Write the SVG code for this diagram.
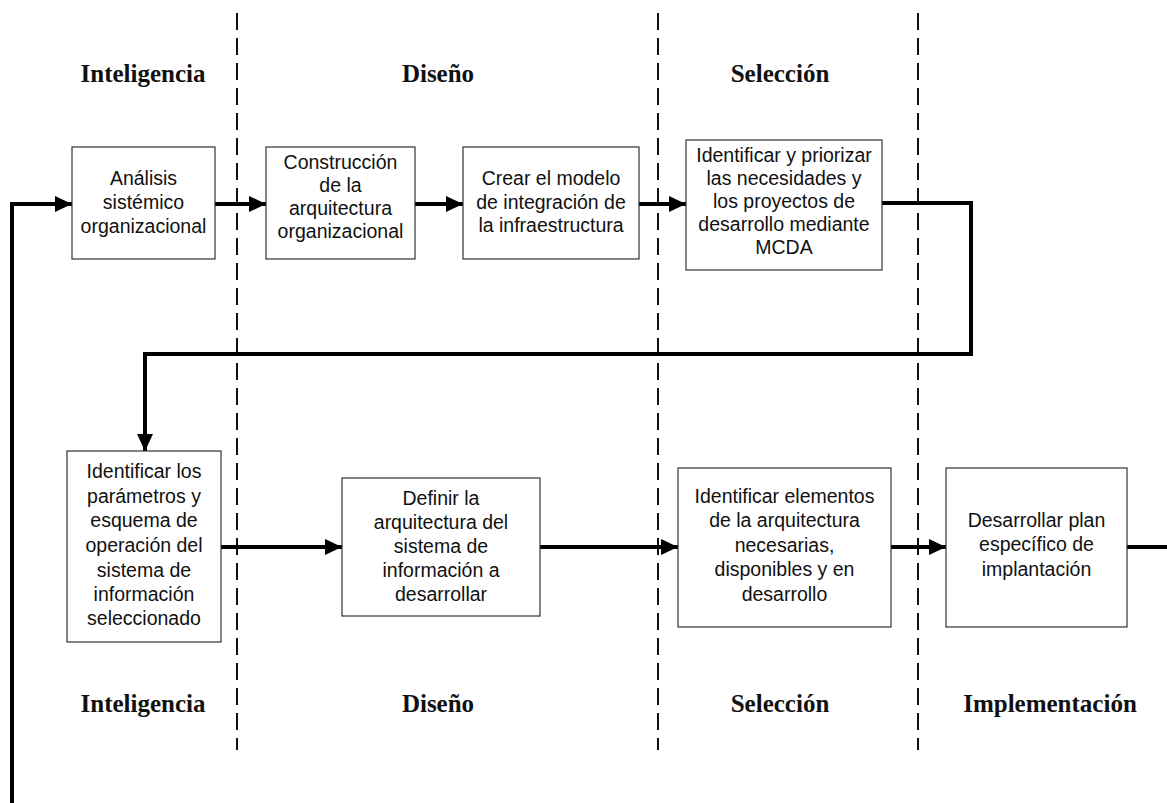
<svg xmlns="http://www.w3.org/2000/svg" width="1167" height="803" viewBox="0 0 1167 803">
<style>
.box{fill:#fff;stroke:#333;stroke-width:1.2}
.t{font-family:"Liberation Sans",Arial,sans-serif;font-size:19.5px;fill:#111;text-anchor:middle}
.ph{font-family:"Liberation Serif","Times New Roman",serif;font-size:25px;font-weight:bold;fill:#111;text-anchor:middle}
.dash{stroke:#111;stroke-width:2;stroke-dasharray:17 8;fill:none}
.c{stroke:#000;stroke-width:4;fill:none}
</style>
<defs>
<marker id="ah" markerUnits="userSpaceOnUse" markerWidth="18" markerHeight="18" refX="17" refY="8" orient="auto">
<path d="M0,0 L17,8 L0,16 Z" fill="#000"/>
</marker>
</defs>
<g id="lanes">
<line class="dash" x1="237" y1="13" x2="237" y2="750"/>
<line class="dash" x1="658" y1="13" x2="658" y2="750"/>
<line class="dash" x1="918" y1="13" x2="918" y2="750"/>
</g>
<g id="phases">
<text class="ph" x="143" y="82">Inteligencia</text>
<text class="ph" x="438" y="82">Diseño</text>
<text class="ph" x="780" y="82">Selección</text>
<text class="ph" x="143" y="712">Inteligencia</text>
<text class="ph" x="438" y="712">Diseño</text>
<text class="ph" x="780" y="712">Selección</text>
<text class="ph" x="1050" y="712">Implementación</text>
</g>
<g id="connectors">
<path class="c" d="M12,803 V204 H72" marker-end="url(#ah)"/>
<path class="c" d="M215,204 H266" marker-end="url(#ah)"/>
<path class="c" d="M415,204 H463" marker-end="url(#ah)"/>
<path class="c" d="M639,204 H686" marker-end="url(#ah)"/>
<path class="c" d="M882,203 H971 V354 H145 V451" marker-end="url(#ah)"/>
<path class="c" d="M221,547 H342" marker-end="url(#ah)"/>
<path class="c" d="M540,547 H678" marker-end="url(#ah)"/>
<path class="c" d="M891,547 H946" marker-end="url(#ah)"/>
<path class="c" d="M1127,547 H1167"/>
</g>
<g id="n1">
<rect class="box" x="72" y="147" width="143" height="112"/>
<text class="t" x="143.5" y="185">Análisis</text>
<text class="t" x="143.5" y="209">sistémico</text>
<text class="t" x="143.5" y="233">organizacional</text>
</g>
<g id="n2">
<rect class="box" x="266" y="147" width="149" height="112"/>
<text class="t" x="340.5" y="169">Construcción</text>
<text class="t" x="340.5" y="192">de la</text>
<text class="t" x="340.5" y="215">arquitectura</text>
<text class="t" x="340.5" y="238">organizacional</text>
</g>
<g id="n3">
<rect class="box" x="463" y="147" width="176" height="112"/>
<text class="t" x="551" y="185">Crear el modelo</text>
<text class="t" x="551" y="209">de integración de</text>
<text class="t" x="551" y="232">la infraestructura</text>
</g>
<g id="n4">
<rect class="box" x="686" y="140" width="196" height="130"/>
<text class="t" x="784" y="162">Identificar y priorizar</text>
<text class="t" x="784" y="185">las necesidades y</text>
<text class="t" x="784" y="208">los proyectos de</text>
<text class="t" x="784" y="231">desarrollo mediante</text>
<text class="t" x="784" y="254">MCDA</text>
</g>
<g id="n5">
<rect class="box" x="67" y="451" width="154" height="191"/>
<text class="t" x="144" y="478">Identificar los</text>
<text class="t" x="144" y="503">parámetros y</text>
<text class="t" x="144" y="527">esquema de</text>
<text class="t" x="144" y="552">operación del</text>
<text class="t" x="144" y="577">sistema de</text>
<text class="t" x="144" y="601">información</text>
<text class="t" x="144" y="625">seleccionado</text>
</g>
<g id="n6">
<rect class="box" x="342" y="478" width="198" height="138"/>
<text class="t" x="441" y="505">Definir la</text>
<text class="t" x="441" y="529">arquitectura del</text>
<text class="t" x="441" y="553">sistema de</text>
<text class="t" x="441" y="577">información a</text>
<text class="t" x="441" y="601">desarrollar</text>
</g>
<g id="n7">
<rect class="box" x="678" y="468" width="213" height="159"/>
<text class="t" x="784.5" y="503">Identificar elementos</text>
<text class="t" x="784.5" y="527">de la arquitectura</text>
<text class="t" x="784.5" y="552">necesarias,</text>
<text class="t" x="784.5" y="576">disponibles y en</text>
<text class="t" x="784.5" y="601">desarrollo</text>
</g>
<g id="n8">
<rect class="box" x="946" y="468" width="181" height="159"/>
<text class="t" x="1036.5" y="527">Desarrollar plan</text>
<text class="t" x="1036.5" y="551">específico de</text>
<text class="t" x="1036.5" y="576">implantación</text>
</g>
</svg>
